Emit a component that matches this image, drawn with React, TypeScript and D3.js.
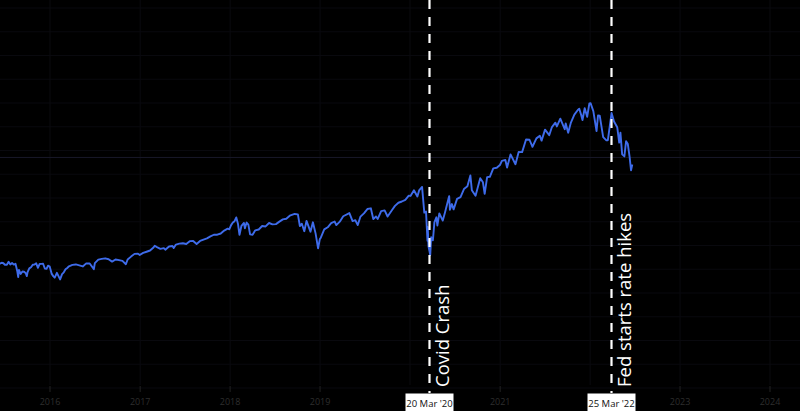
import React from "react";
import * as d3 from "d3";

const dates: string[] = [
  "2015-05-15","2015-05-29","2015-06-05","2015-06-12","2015-06-19","2015-06-26","2015-07-02","2015-07-10","2015-07-17","2015-07-24","2015-07-31","2015-08-07","2015-08-14","2015-08-21","2015-08-25","2015-08-28","2015-09-04","2015-09-11","2015-09-18","2015-09-25","2015-09-29","2015-10-02","2015-10-09","2015-10-16","2015-10-23","2015-10-30","2015-11-06","2015-11-13","2015-11-20","2015-11-27","2015-12-04","2015-12-11","2015-12-18","2015-12-24","2015-12-31",
  "2016-01-08","2016-01-15","2016-01-20","2016-01-29","2016-02-05","2016-02-11","2016-02-19","2016-02-26","2016-03-04","2016-03-11","2016-03-18","2016-04-01","2016-04-15","2016-04-29","2016-05-13","2016-05-27","2016-06-10","2016-06-27","2016-07-01","2016-07-15","2016-07-29","2016-08-12","2016-08-26","2016-09-09","2016-09-23","2016-10-07","2016-10-21","2016-11-04","2016-11-11","2016-11-25","2016-12-09","2016-12-23","2016-12-30",
  "2017-01-13","2017-01-27","2017-02-10","2017-02-24","2017-03-01","2017-03-10","2017-03-24","2017-04-07","2017-04-13","2017-04-28","2017-05-12","2017-05-17","2017-05-26","2017-06-09","2017-06-23","2017-07-07","2017-07-21","2017-08-04","2017-08-18","2017-09-01","2017-09-15","2017-09-29","2017-10-13","2017-10-27","2017-11-10","2017-11-24","2017-12-08","2017-12-22","2017-12-29",
  "2018-01-05","2018-01-12","2018-01-19","2018-01-26","2018-02-02","2018-02-08","2018-02-16","2018-02-26","2018-03-02","2018-03-09","2018-03-16","2018-03-23","2018-04-02","2018-04-13","2018-04-27","2018-05-11","2018-05-25","2018-06-08","2018-06-22","2018-07-06","2018-07-20","2018-08-03","2018-08-17","2018-08-31","2018-09-20","2018-10-03","2018-10-11","2018-10-19","2018-10-29","2018-11-07","2018-11-23","2018-12-03","2018-12-14","2018-12-24","2018-12-31",
  "2019-01-04","2019-01-18","2019-02-01","2019-02-15","2019-03-01","2019-03-08","2019-03-22","2019-04-05","2019-04-30","2019-05-13","2019-05-24","2019-06-03","2019-06-14","2019-06-28","2019-07-12","2019-07-26","2019-08-05","2019-08-16","2019-08-23","2019-09-06","2019-09-20","2019-10-02","2019-10-18","2019-11-01","2019-11-15","2019-11-29","2019-12-13","2019-12-27",
  "2020-01-03","2020-01-17","2020-01-31","2020-02-07","2020-02-19","2020-02-28","2020-03-06","2020-03-12","2020-03-13","2020-03-16","2020-03-20","2020-03-23","2020-03-27","2020-04-03","2020-04-09","2020-04-17","2020-04-21","2020-04-29","2020-05-13","2020-05-22","2020-06-08","2020-06-11","2020-06-19","2020-06-26","2020-07-10","2020-07-24","2020-08-07","2020-08-21","2020-09-02","2020-09-08","2020-09-23","2020-10-12","2020-10-23","2020-10-30","2020-11-09","2020-11-20","2020-12-04","2020-12-18","2020-12-31",
  "2021-01-08","2021-01-22","2021-01-29","2021-02-12","2021-03-04","2021-03-17","2021-03-31","2021-04-16","2021-04-30","2021-05-12","2021-05-28","2021-06-11","2021-06-18","2021-07-02","2021-07-19","2021-07-30","2021-08-13","2021-08-19","2021-09-02","2021-09-20","2021-09-24","2021-10-04","2021-10-15","2021-10-29","2021-11-12","2021-11-18","2021-11-26","2021-12-01","2021-12-10","2021-12-20","2021-12-29",
  "2022-01-03","2022-01-14","2022-01-27","2022-02-02","2022-02-09","2022-02-23","2022-03-08","2022-03-14","2022-03-29","2022-04-08","2022-04-21","2022-04-29","2022-05-04","2022-05-11","2022-05-20","2022-05-27","2022-06-03","2022-06-10","2022-06-16","2022-06-21"
];

const closes: number[] = [
  2122,2107,2092,2094,2110,2101,2076,2076,2126,2079,2104,2078,2092,1971,1868,1988,1921,1961,1958,1931,1884,1951,2014,2033,2075,2079,2099,2023,2089,2090,2092,2012,2006,2061,2044,
  1922,1880,1859,1940,1880,1829,1918,1948,1999,2022,2050,2073,2081,2065,2047,2099,2096,2001,2103,2162,2174,2184,2169,2128,2165,2153,2141,2085,2164,2213,2259,2263,2239,
  2275,2295,2316,2367,2396,2373,2344,2355,2329,2384,2391,2357,2416,2432,2438,2425,2473,2477,2426,2477,2500,2519,2553,2581,2582,2602,2652,2683,2674,
  2743,2786,2810,2873,2762,2581,2732,2780,2691,2786,2752,2588,2582,2656,2670,2728,2721,2779,2755,2760,2802,2840,2850,2902,2931,2925,2728,2767,2641,2814,2633,2790,2600,2351,2507,
  2532,2671,2707,2776,2804,2743,2801,2893,2946,2812,2826,2744,2887,2942,3014,3026,2845,2889,2847,2979,2992,2888,2986,3067,3120,3141,3169,3240,
  3235,3330,3226,3328,3386,2954,2972,2481,2711,2386,2305,2237,2541,2489,2790,2875,2737,2940,2820,2955,3232,3002,3098,3009,3185,3216,3351,3397,3580,3332,3237,3534,3465,3270,3551,3557,3699,3709,3756,
  3825,3841,3714,3934,3768,3974,3973,4185,4181,4063,4204,4247,4166,4352,4258,4395,4468,4405,4537,4358,4455,4300,4471,4605,4682,4704,4595,4513,4712,4568,4793,
  4796,4663,4327,4589,4587,4225,4170,4173,4631,4488,4393,4132,4300,3935,3901,4158,4109,3901,3667,3765
];

const yearTicks: string[] = ["2016","2017","2018","2019","2020","2021","2022","2023","2024"];
const priceGrid: number[] = [0,400,800,1200,1600,2000,2400,2800,3200,3600,4000,4400,4800,5200,5600,6000,6400];

const eventDates: string[] = ["2020-03-20", "2022-03-25"];
const eventBoxLabels: string[] = ["20 Mar '20", "25 Mar '22"];
const eventNotes: string[] = ["Covid Crash", "Fed starts rate hikes"];

const W = 800;
const H = 411;

export default function App() {
  const parse = d3.timeParse("%Y-%m-%d");
  const x = d3.scaleTime().domain([new Date(2016, 0, 1), new Date(2024, 0, 1)]).range([50, 770]);
  const y = d3.scaleLinear().domain([0, 6400]).range([388, 8]);

  const data = dates.map((d, i) => ({ date: parse(d) as Date, v: closes[i] }));
  const line = d3.line<{ date: Date; v: number }>().x((d) => x(d.date)).y((d) => y(d.v));
  const lastV = closes[closes.length - 1];
  const eventX = eventDates.map((d) => Math.round(x(parse(d) as Date)) + 0.5);

  return (
    <svg width={W} height={H} style={{ position: "fixed", left: 0, top: 0, display: "block", background: "#000" }}>
      <rect x={0} y={0} width={W} height={H} fill="#000" />
      <defs>
        <clipPath id="plot">
          <rect x={0} y={0} width={W} height={386} />
        </clipPath>
      </defs>
      {priceGrid.map((p) => (
        <line key={"h" + p} x1={0} x2={W} y1={y(p)} y2={y(p)} stroke="#09090e" strokeWidth={1} />
      ))}
      {yearTicks.map((t) => {
        const xx = x(new Date(+t, 0, 1));
        return <line key={"v" + t} x1={xx} x2={xx} y1={0} y2={385} stroke="#0a0a0f" strokeWidth={1} />;
      })}
      <line x1={0} x2={W} y1={y(lastV) - 7} y2={y(lastV) - 7} stroke="#171828" strokeWidth={1} />
      <path d={line(data) || ""} fill="none" stroke="#3e6bea" strokeWidth={1.9} strokeLinejoin="round" clipPath="url(#plot)" />
      {yearTicks.map((t) => {
        const xx = x(new Date(+t, 0, 1));
        if (eventX.some((ex) => Math.abs(ex - xx) < 30)) return null;
        return (
          <g key={"t" + t}>
            <line x1={xx} x2={xx} y1={386} y2={392} stroke="#222" strokeWidth={1} />
            <text x={xx} y={405} textAnchor="middle" fontSize={9} fill="#2e2e2e" fontFamily="Open Sans, sans-serif">
              {t}
            </text>
          </g>
        );
      })}
      {eventDates.map((d, i) => {
        const xx = eventX[i];
        return (
          <g key={"e" + i}>
            <line x1={xx} x2={xx} y1={0} y2={393} stroke="#fff" strokeWidth={2.2} strokeDasharray="9,8" />
            <rect x={xx - 24} y={393.5} width={48} height={20} fill="#fff" />
            <text x={xx} y={407} textAnchor="middle" fontSize={9.5} fill="#111" fontFamily="Open Sans, sans-serif">
              {eventBoxLabels[i]}
            </text>
            <text
              transform={`translate(${xx + 19},387) rotate(-90)`}
              fontSize={18.5}
              fill="#fff"
              fontFamily="Open Sans, sans-serif"
            >
              {eventNotes[i]}
            </text>
          </g>
        );
      })}
    </svg>
  );
}
